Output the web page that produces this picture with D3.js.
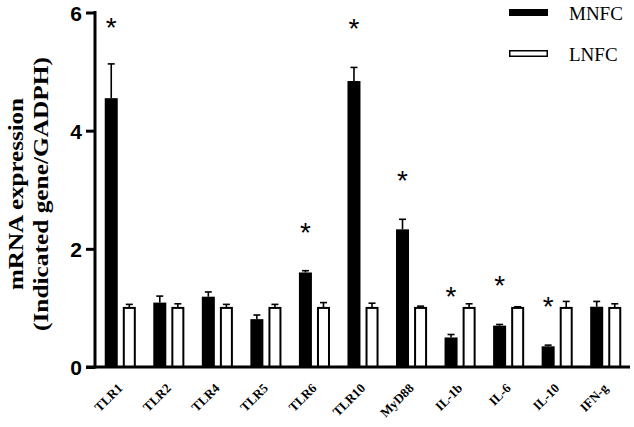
<!DOCTYPE html>
<html>
<head>
<meta charset="utf-8">
<script src="https://cdn.jsdelivr.net/npm/d3@7/dist/d3.min.js"></script>
<style>
  html, body { margin: 0; padding: 0; background: #fff; }
  svg { display: block; }
</style>
</head>
<body>
<svg id="chart" width="634" height="427"></svg>
<script>
const categories = ["TLR1", "TLR2", "TLR4", "TLR5", "TLR6", "TLR10", "MyD88", "IL-1b", "IL-6", "IL-10", "IFN-g"];
const seriesNames = ["MNFC", "LNFC"];
const mnfc    = [4.55, 1.09, 1.19, 0.81, 1.60, 4.84, 2.33, 0.50, 0.70, 0.35, 1.02];
const mnfcErr = [0.58, 0.11, 0.08, 0.07, 0.03, 0.23, 0.17, 0.05, 0.02, 0.02, 0.09];
const lnfc    = [1.00, 1.00, 1.00, 1.00, 1.00, 1.00, 1.00, 1.00, 1.00, 1.00, 1.00];
const lnfcErr = [0.06, 0.07, 0.06, 0.06, 0.09, 0.08, 0.03, 0.07, 0.02, 0.11, 0.07];
const significant = [true, false, false, false, true, true, true, true, true, true, false];
const yTicks = [0, 2, 4, 6];
const yLabelLines = ["mRNA expression", "(Indicated gene/GADPH)"];

const svg = d3.select("#chart");
const serif = "'Liberation Serif', 'Times New Roman', serif";
const sans = "'Liberation Sans', Arial, sans-serif";

const y = d3.scaleLinear().domain([0, 6]).range([367, 12.5]);
const x0 = d3.scaleBand().domain(categories).range([96, 630]).paddingInner(0.36).paddingOuter(0.18);
const x1 = d3.scaleBand().domain(seriesNames).range([0, x0.bandwidth()]).paddingInner(0.28);

const data = categories.map((c, i) => ({
  cat: c,
  sig: significant[i],
  bars: [
    { s: "MNFC", v: mnfc[i], e: mnfcErr[i] },
    { s: "LNFC", v: lnfc[i], e: lnfcErr[i] }
  ]
}));

// Bars
const groups = svg.append("g").selectAll("g").data(data).join("g")
  .attr("transform", d => `translate(${x0(d.cat)},0)`);

groups.selectAll("g.err").data(d => d.bars).join("g").attr("class", "err")
  .each(function(d) {
    const g = d3.select(this);
    const cx = x1(d.s) + x1.bandwidth() / 2;
    g.append("line").attr("x1", cx).attr("x2", cx)
      .attr("y1", y(d.v)).attr("y2", y(d.v + d.e))
      .attr("stroke", "#000").attr("stroke-width", 1.6);
    g.append("line").attr("x1", cx - 3.5).attr("x2", cx + 3.5)
      .attr("y1", y(d.v + d.e)).attr("y2", y(d.v + d.e))
      .attr("stroke", "#000").attr("stroke-width", 1.6);
  });

groups.selectAll("rect").data(d => d.bars).join("rect")
  .attr("x", d => x1(d.s) + (d.s === "LNFC" ? 1 : 0))
  .attr("width", d => x1.bandwidth() - (d.s === "LNFC" ? 2 : 0))
  .attr("y", d => y(d.v))
  .attr("height", d => y(0) - y(d.v))
  .attr("fill", d => d.s === "MNFC" ? "#000" : "#fff")
  .attr("stroke", d => d.s === "LNFC" ? "#000" : "none")
  .attr("stroke-width", 2);

// Significance stars
groups.filter(d => d.sig).append("text")
  .attr("x", x1("MNFC") + x1.bandwidth() / 2)
  .attr("y", d => Math.max(y(d.bars[0].v + d.bars[0].e) - 44, 22) + 15)
  .attr("text-anchor", "middle")
  .attr("font-family", sans)
  .attr("font-size", 28)
  .text("*");

// Y axis
const yAxis = svg.append("g").attr("transform", "translate(95,0)")
  .call(d3.axisLeft(y).tickValues(yTicks).tickSize(9).tickPadding(4).tickFormat(d3.format("d")));
yAxis.select(".domain").attr("d", `M0,${y(0) + 1.5}V${y(6) - 1.5}`).attr("stroke-width", 3).attr("stroke", "#000");
yAxis.selectAll(".tick line").attr("stroke-width", 3).attr("stroke", "#000");
yAxis.selectAll(".tick text").attr("font-family", sans).attr("font-weight", "bold")
  .attr("font-size", 21).attr("fill", "#000").attr("dy", "0.36em");

// X axis baseline
const xAxis = svg.append("g").attr("transform", `translate(0,${y(0)})`)
  .call(d3.axisBottom(x0).tickSize(0).tickFormat(""));
xAxis.select(".domain").attr("d", "M86,0H630").attr("stroke-width", 3).attr("stroke", "#000");

// X labels, rotated -45 degrees (CSS transform)
svg.append("g").selectAll("text").data(categories).join("text")
  .attr("x", 0).attr("y", 0)
  .style("transform-origin", "0 0")
  .style("transform", d => `translate(${x0(d) + x0.bandwidth() / 2 + 3}px, ${y(0) + 22}px) rotate(-45deg)`)
  .attr("text-anchor", "end")
  .attr("font-family", serif).attr("font-weight", "bold").attr("font-size", 13).attr("fill", "#000")
  .text(d => d);

// Y axis title
const yTitle = svg.append("g").attr("transform", "translate(0,194) rotate(-90)");
const titleLengths = [192, 274];
yTitle.selectAll("text").data(yLabelLines).join("text")
  .attr("x", 0)
  .attr("y", (d, i) => i === 0 ? 23 : 48)
  .attr("text-anchor", "middle")
  .attr("font-family", serif).attr("font-weight", "bold").attr("font-size", 20)
  .attr("textLength", (d, i) => titleLengths[i])
  .attr("lengthAdjust", "spacingAndGlyphs")
  .text(d => d);

// Legend
const legend = svg.append("g").selectAll("g").data(seriesNames).join("g")
  .attr("transform", (d, i) => `translate(509,${9 + i * 41})`);
legend.append("rect")
  .attr("x", d => d === "LNFC" ? 0.75 : 0)
  .attr("y", d => d === "LNFC" ? 0.75 : 0)
  .attr("width", d => d === "LNFC" ? 37.5 : 39)
  .attr("height", d => d === "LNFC" ? 5.5 : 7)
  .attr("fill", d => d === "MNFC" ? "#000" : "#fff")
  .attr("stroke", d => d === "LNFC" ? "#000" : "none")
  .attr("stroke-width", 1.5);
legend.append("text")
  .attr("x", 60).attr("y", 10.5)
  .attr("font-family", serif).attr("font-size", 19)
  .text(d => d);
</script>
</body>
</html>
